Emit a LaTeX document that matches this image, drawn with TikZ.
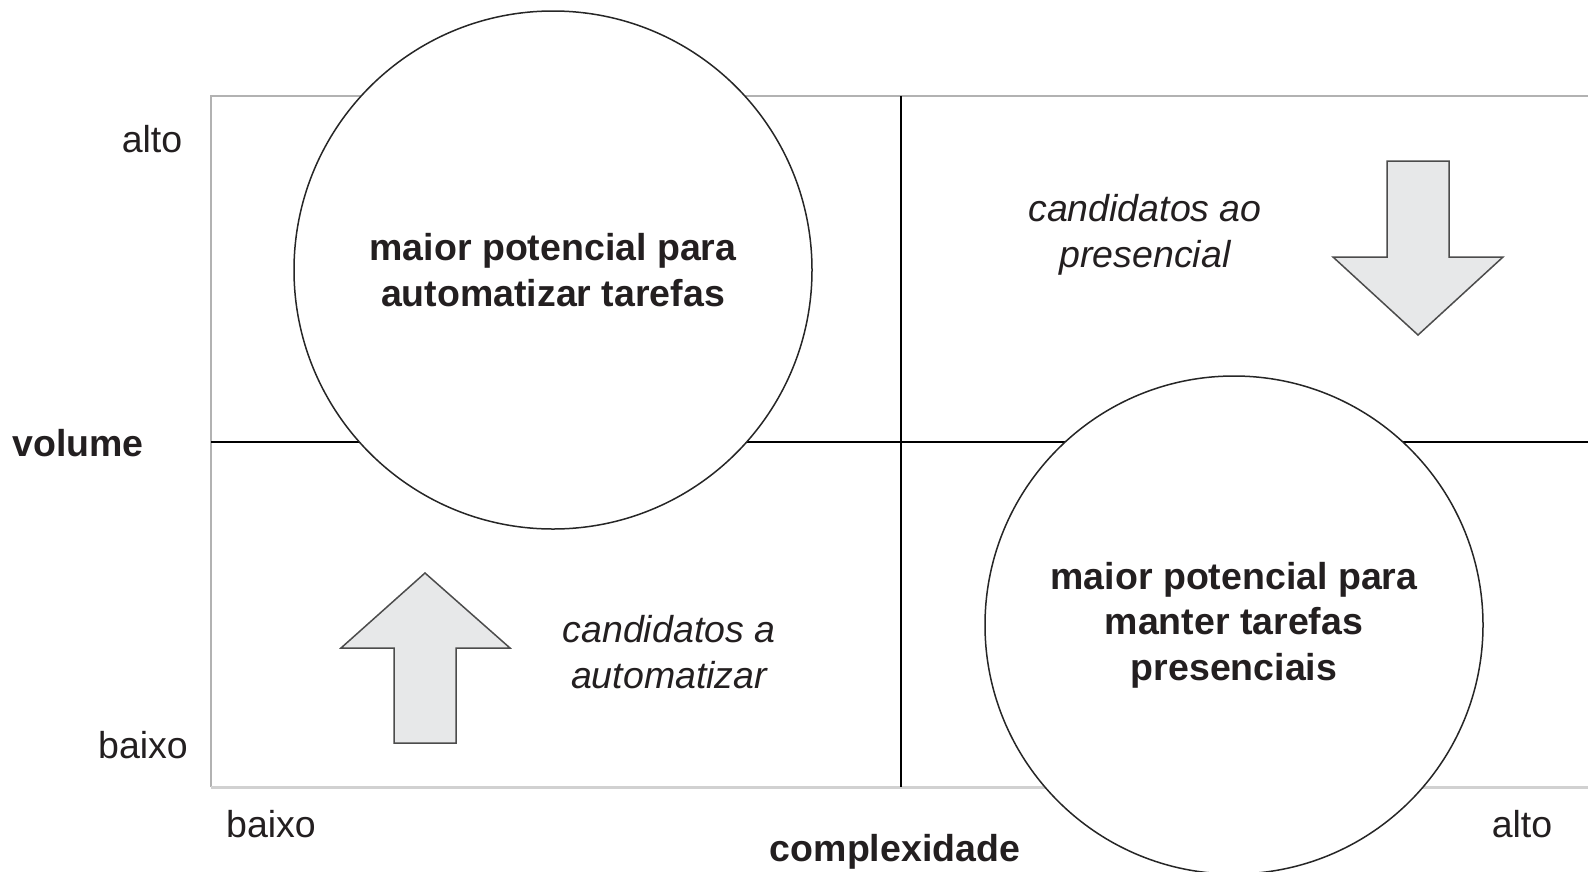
\documentclass[tikz,border=0pt]{standalone}
\usepackage{fontspec}
\setmainfont{Liberation Sans}
\definecolor{txt}{RGB}{35,31,32}
\definecolor{arrfill}{RGB}{231,232,233}
\begin{document}
\begin{tikzpicture}[x=1pt,y=-1pt,
  lbl/.style={text=txt,font=\fontsize{37.5}{45.6}\selectfont, inner sep=0pt, align=center},
  bl/.style={lbl, font=\fontsize{37.5}{45.6}\selectfont\bfseries},
  it/.style={lbl, font=\fontsize{37.5}{45.6}\selectfont\itshape},
  frameline/.style={draw=black!30, line width=2pt},
  divider/.style={draw=black, line width=1.5pt},
  bubble/.style={circle, draw=black!85, line width=1.5pt, fill=white, inner sep=0pt, text=txt, align=center, font=\fontsize{37.5}{45.6}\selectfont\bfseries},
  bigarrow/.style={draw=black!70, line width=1.5pt, fill=arrfill, line join=miter}]
\useasboundingbox (0,0) rectangle (1588,871);
% frame
\coordinate (tl) at (211,96);
\coordinate (tr) at (1588,96);
\coordinate (bl) at (211,787);
\coordinate (br) at (1588,787);
\draw[frameline] (tr) -- (tl) -- (bl);
\draw[frameline, draw=black!18, line width=3pt] (bl) -- (br);
% dividers
\coordinate (vt) at (901,96);
\coordinate (vb) at (901,787);
\coordinate (hl) at (211,442);
\coordinate (hr) at (1588,442);
\draw[divider] (vt) -- (vb);
\draw[divider] (hl) -- (hr);
% circles
\node[bubble, minimum size=518pt] (c1) at (553,270) {maior potencial para\\automatizar tarefas};
\node[bubble, minimum size=498pt] (c2) at (1234,625) {maior potencial para\\manter tarefas\\presenciais};
% arrows
\draw[bigarrow] (1387,161) -- (1449,161) -- (1449,257) -- (1503,257) -- (1418,335) -- (1333,257) -- (1387,257) -- cycle;
\draw[bigarrow] (394,743) -- (456,743) -- (456,648) -- (510,648) -- (425,573) -- (341,648) -- (394,648) -- cycle;
% labels
\node[lbl] (altoV) at (152,139) {alto};
\node[bl] (vol) at (78,443) {volume};
\node[lbl] (baixoV) at (143,745) {baixo};
\node[lbl] (baixoH) at (271,824) {baixo};
\node[bl] (cx) at (895,852) {complexidade};
\node[lbl] (altoH) at (1522,824) {alto};
\node[it] (cpres) at (1145,235) {candidatos ao\\presencial};
\node[it] (cauto) at (669,652) {candidatos a\\automatizar};
\end{tikzpicture}
\end{document}
